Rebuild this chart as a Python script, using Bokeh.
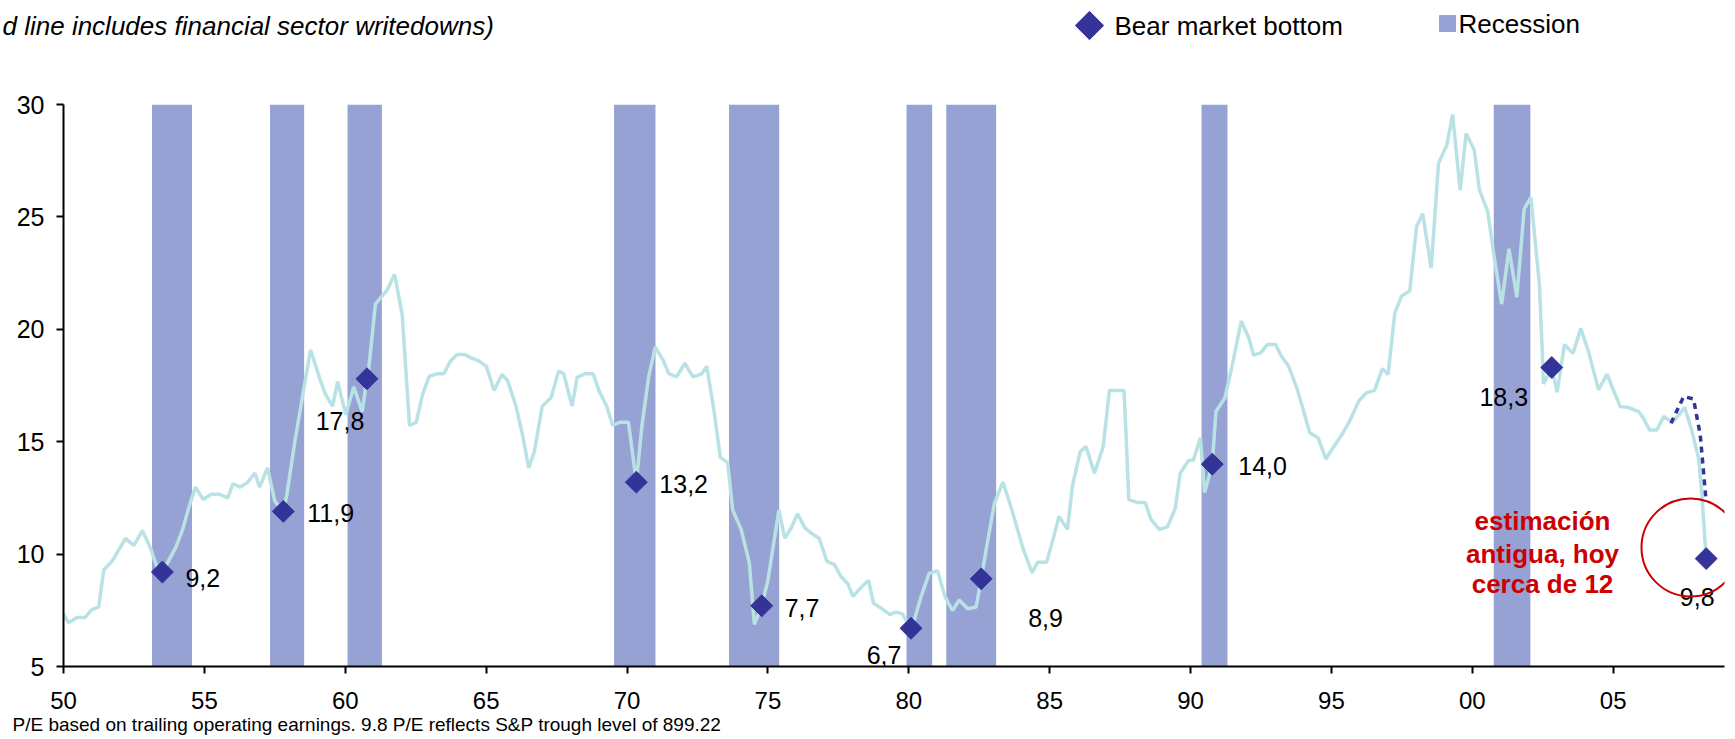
import numpy as np
from bokeh.plotting import figure
from bokeh.models import Range1d, FixedTicker, Title
from bokeh.layouts import column
from bokeh.core.properties import value
from bokeh.embed import file_html
from bokeh.resources import INLINE

# ---------------- data ----------------
years = [1950.0, 1950.18, 1950.48, 1950.77, 1950.99, 1951.25, 1951.43, 1951.73, 1952.2, 1952.5,
         1952.8, 1953.1, 1953.33, 1953.51, 1953.69, 1953.99, 1954.23, 1954.44, 1954.68, 1954.96,
         1955.24, 1955.54, 1955.83, 1956.01, 1956.27, 1956.51, 1956.79, 1956.96, 1957.24, 1957.5,
         1957.8, 1957.92, 1958.21, 1958.54, 1958.77, 1959.11, 1959.29, 1959.55, 1959.73, 1960.02,
         1960.3, 1960.6, 1960.77, 1960.83, 1961.07, 1961.49, 1961.75, 1962.02, 1962.28, 1962.52,
         1962.75, 1962.98, 1963.25, 1963.5, 1963.73, 1963.97, 1964.24, 1964.45, 1964.72, 1965.01,
         1965.28, 1965.56, 1965.76, 1966.06, 1966.3, 1966.51, 1966.71, 1966.99, 1967.31, 1967.57,
         1967.75, 1968.05, 1968.23, 1968.5, 1968.8, 1969.01, 1969.28, 1969.49, 1969.75, 1970.05,
         1970.33, 1970.53, 1970.77, 1971.0, 1971.3, 1971.48, 1971.76, 1972.05, 1972.34, 1972.65,
         1972.83, 1973.09, 1973.31, 1973.57, 1973.75, 1974.05, 1974.34, 1974.52, 1974.78, 1975.0,
         1975.39, 1975.6, 1975.83, 1976.05, 1976.31, 1976.53, 1976.82, 1977.09, 1977.36, 1977.6,
         1977.84, 1978.02, 1978.3, 1978.57, 1978.75, 1979.05, 1979.33, 1979.53, 1979.77, 1979.95,
         1980.08, 1980.18, 1980.44, 1980.72, 1981.02, 1981.28, 1981.55, 1981.79, 1982.09, 1982.39,
         1982.57, 1982.75, 1983.04, 1983.34, 1983.64, 1984.06, 1984.38, 1984.57, 1984.89, 1985.13,
         1985.33, 1985.63, 1985.81, 1986.08, 1986.29, 1986.59, 1986.9, 1987.12, 1987.64, 1987.81,
         1988.11, 1988.39, 1988.59, 1988.89, 1989.18, 1989.46, 1989.63, 1989.94, 1990.1, 1990.35,
         1990.5, 1990.77, 1990.9, 1991.22, 1991.5, 1991.8, 1992.07, 1992.24, 1992.5, 1992.72,
         1993.02, 1993.2, 1993.47, 1993.77, 1993.99, 1994.23, 1994.53, 1994.8, 1995.04, 1995.38,
         1995.66, 1995.97, 1996.24, 1996.53, 1996.81, 1997.01, 1997.25, 1997.49, 1997.78, 1998.02,
         1998.24, 1998.54, 1998.8, 1999.1, 1999.3, 1999.57, 1999.78, 2000.07, 2000.25, 2000.55,
         2000.77, 2001.04, 2001.3, 2001.58, 2001.84, 2002.08, 2002.38, 2002.53, 2002.82, 2003.01,
         2003.27, 2003.57, 2003.85, 2004.12, 2004.48, 2004.78, 2004.99, 2005.25, 2005.55, 2005.9,
         2006.06, 2006.29, 2006.55, 2006.79, 2007.11, 2007.54, 2007.8, 2008.03, 2008.15, 2008.3]
pe = [7.34, 6.95, 7.18, 7.18, 7.52, 7.65, 9.30, 9.69, 10.7, 10.39,
      11.05, 10.23, 9.37, 9.2, 9.61, 10.31, 11.1, 12.04, 12.98, 12.43,
      12.66, 12.66, 12.5, 13.13, 12.98, 13.16, 13.6, 12.98, 13.84, 12.35,
      11.9, 12.59, 15.0, 17.44, 19.08, 17.75, 17.13, 16.58, 17.67, 16.19,
      17.44, 16.34, 17.8, 18.22, 21.12, 21.75, 22.45, 20.65, 15.72, 15.87,
      17.13, 17.91, 18.02, 18.02, 18.58, 18.88, 18.88, 18.74, 18.61, 18.35,
      17.28, 17.99, 17.72, 16.58, 15.25, 13.84, 14.55, 16.58, 16.97, 18.14,
      18.03, 16.58, 17.86, 18.02, 18.02, 17.25, 16.58, 15.72, 15.87, 15.87,
      13.2, 15.72, 17.91, 19.21, 18.58, 18.03, 17.88, 18.49, 17.88, 18.02,
      18.35, 16.34, 14.31, 14.07, 11.96, 11.1, 9.61, 6.87, 7.7, 8.83,
      11.96, 10.7, 11.17, 11.8, 11.17, 10.94, 10.7, 9.69, 9.53, 8.99,
      8.67, 8.12, 8.51, 8.83, 7.81, 7.57, 7.31, 7.42, 7.34, 6.95,
      6.7, 7.0, 8.12, 9.14, 9.26, 8.12, 7.49, 7.96, 7.57, 7.65,
      8.9, 10.23, 12.27, 13.21, 12.04, 10.23, 9.17, 9.64, 9.64, 10.7,
      11.68, 11.1, 13.05, 14.55, 14.78, 13.6, 14.78, 17.28, 17.28, 12.43,
      12.3, 12.3, 11.56, 11.1, 11.21, 12.04, 13.6, 14.18, 14.18, 15.17,
      12.74, 14.0, 16.34, 16.95, 18.53, 20.37, 19.6, 18.85, 18.96, 19.32,
      19.32, 18.85, 18.38, 17.39, 16.47, 15.4, 15.17, 14.23, 14.7, 15.33,
      15.95, 16.81, 17.17, 17.28, 18.25, 17.99, 20.73, 21.48, 21.7, 24.57,
      25.14, 22.72, 27.38, 28.21, 29.55, 26.18, 28.71, 27.98, 26.21, 25.22,
      23.27, 21.12, 23.58, 21.43, 25.35, 25.87, 22.01, 17.57, 18.3, 17.2,
      19.32, 18.93, 20.03, 19.02, 17.31, 18.0, 17.35, 16.56, 16.52, 16.34,
      16.07, 15.52, 15.52, 16.12, 15.86, 16.52, 15.45, 14.26, 12.62, 9.8]

# dashed line: P/E including financial sector writedowns
dash_years = [2007.05, 2007.5, 2007.85, 2008.09, 2008.3]
dash_pe = [15.82, 17.01, 16.9, 15.3, 12.32]

# bear market bottoms
bottom_years = [1953.51, 1957.8, 1960.77, 1970.33, 1974.78, 1980.08, 1982.57, 1990.77, 2002.82, 2008.3]
bottom_pe = [9.2, 11.9, 17.8, 13.2, 7.7, 6.7, 8.9, 14.0, 18.3, 9.8]

# recessions (shaded)
rec_start = [1953.14, 1957.33, 1960.08, 1969.54, 1973.62, 1979.92, 1981.33, 1990.39, 2000.76]
rec_end = [1954.56, 1958.54, 1961.30, 1971.01, 1975.40, 1980.83, 1983.10, 1991.31, 2002.06]

x_ticks = [1950, 1955, 1960, 1965, 1970, 1975, 1980, 1985, 1990, 1995, 2000, 2005]
x_tick_labels = ["50", "55", "60", "65", "70", "75", "80", "85", "90", "95", "00", "05"]
y_ticks = [5, 10, 15, 20, 25, 30]

subtitle = "d line includes financial sector writedowns)"
footnote = "P/E based  on trailing operating  earnings. 9.8 P/E  reflects S&P trough level of 899.22"
note_lines = ["estimación", "antigua, hoy", "cerca de 12"]
legend_bear = "Bear market bottom"
legend_rec = "Recession"

# ---------------- layout / style (page pixels) ----------------
W = 1735
HEAD_H, TOTAL_H = 90, 739
FL, FR, FT, FB = 63, 1724, 104, 666          # plot frame on the page
X0, X1 = 1950.0, 2008.95
Y0, Y1 = 5.0, 30.0
PPX = (FR - FL) / (X1 - X0)
PPY = (FB - FT) / (Y1 - Y0)


def cx(px):
    return X0 + (px - FL) / PPX


def cy(py):
    return Y1 - (py - FT) / PPY


FONT = "Liberation Sans"
LINE_C = "#b9e2e5"
BAR_C = "#96a2d3"
DIAM_C = "#333399"
RED_C = "#cc0000"

# ---------- header: subtitle + legend ----------
head = figure(width=W, height=HEAD_H, x_range=Range1d(0, W), y_range=Range1d(HEAD_H, 0),
              output_backend="svg", toolbar_location=None,
              x_axis_location=None, y_axis_location=None,
              min_border=0, min_border_left=0, min_border_right=0,
              min_border_top=0, min_border_bottom=0)
head.frame_align = False
head.outline_line_color = None
head.xgrid.visible = False
head.ygrid.visible = False
head.text(x=[2], y=[25], text=[subtitle], text_align="left", text_baseline="alphabetic",
          text_font=value(FONT), text_font_size=value("26px"), text_font_style="italic",
          text_color="black")
head.scatter(x=[1089], y=[25], marker="square", size=20, angle=np.pi / 4,
             fill_color=DIAM_C, line_color=DIAM_C)
head.text(x=[1114], y=[25], text=[legend_bear], text_align="left", text_baseline="middle",
          text_font=value(FONT), text_font_size=value("26px"), text_color="black")
head.scatter(x=[1447], y=[23], marker="square", size=16, fill_color=BAR_C, line_color=BAR_C)
head.text(x=[1458], y=[23], text=[legend_rec], text_align="left", text_baseline="middle",
          text_font=value(FONT), text_font_size=value("26px"), text_color="black")

# ---------- main chart ----------
p = figure(width=W, height=TOTAL_H - HEAD_H, x_range=Range1d(X0, X1),
           y_range=Range1d(Y0, Y1), output_backend="svg", toolbar_location=None,
           min_border_left=FL, min_border_right=W - FR,
           min_border_top=FT - HEAD_H, min_border_bottom=TOTAL_H - FB)
p.frame_align = False
p.outline_line_color = None
p.xgrid.visible = False
p.ygrid.visible = False

for ax in (p.xaxis, p.yaxis):
    ax.axis_line_color = "black"
    ax.axis_line_width = 2
    ax.major_tick_line_color = "black"
    ax.major_tick_line_width = 2
    ax.major_tick_in = 0
    ax.major_tick_out = 7
    ax.minor_tick_line_color = None
    ax.major_label_text_font = FONT
    ax.major_label_text_color = "black"

p.xaxis.ticker = FixedTicker(ticks=x_ticks)
p.xaxis.major_label_overrides = {t: l for t, l in zip(x_ticks, x_tick_labels)}
p.xaxis.major_label_text_font_size = "24px"
p.xaxis.major_label_standoff = 18
p.yaxis.ticker = FixedTicker(ticks=y_ticks)
p.yaxis.major_label_text_font_size = "25px"
p.yaxis.major_label_standoff = 12

# footnote under the axis
p.add_layout(Title(text=footnote, align="left", offset=12 - FL, standoff=0,
                   text_font=FONT, text_font_size="19px", text_font_style="normal",
                   text_color="black"), "below")

# recession bars
p.quad(left=rec_start, right=rec_end, bottom=Y0, top=Y1, fill_color=BAR_C, line_color=None)

# P/E line and dashed alternative
p.line(years, pe, line_color=LINE_C, line_width=3.5)
p.line(dash_years, dash_pe, line_color=DIAM_C, line_width=3.5, line_dash="6 5")

# bear market bottoms
p.scatter(bottom_years, bottom_pe, marker="square", size=15.5, angle=np.pi / 4,
          fill_color=DIAM_C, line_color=DIAM_C, line_width=1)

# value labels (offsets in px from the diamond)
lab_dx = [23, 24, -27, 23, 23, -27, 47, 26, -48, -9]
lab_dy = [6, 2, 42, 2, 2, 27, 39, 2, 29, 38]
lab_align = ["left", "left", "center", "left", "left", "center", "left", "left", "center", "center"]
lab_text = [f"{v:.1f}".replace(".", ",") for v in bottom_pe]
for align in ("left", "center"):
    idx = [i for i, a in enumerate(lab_align) if a == align]
    p.text(x=[bottom_years[i] + lab_dx[i] / PPX for i in idx],
           y=[bottom_pe[i] - lab_dy[i] / PPY for i in idx],
           text=[lab_text[i] for i in idx],
           text_align=align, text_baseline="middle",
           text_font=value(FONT), text_font_size=value("25px"), text_color="black")

# red annotation
p.scatter(x=[cx(1690)], y=[cy(547)], marker="circle", size=98, fill_color=None,
          line_color=RED_C, line_width=2)
p.text(x=[cx(1542)] * 3, y=[cy(520), cy(553), cy(583)], text=note_lines,
       text_align="center", text_baseline="middle", text_font=value(FONT),
       text_font_size=value("26px"), text_font_style="bold", text_color=RED_C)

layout = column(head, p, spacing=0)
open("out.html", "w").write(file_html(layout, INLINE))
